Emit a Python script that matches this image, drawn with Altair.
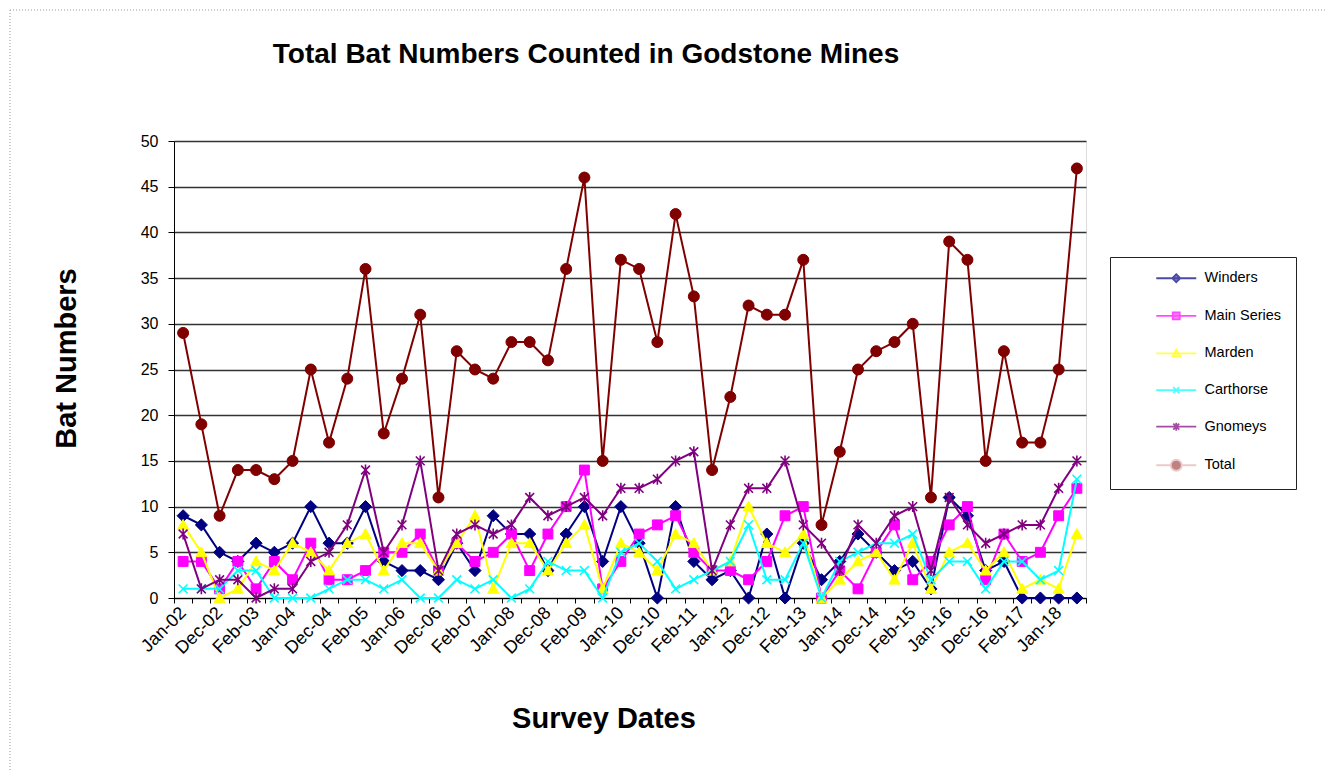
import json
import altair as alt
import pandas as pd

# ---------------- data ----------------
dates = [
    "Jan-02", "Feb-02", "Dec-02", "Jan-03", "Feb-03", "Dec-03",
    "Jan-04", "Feb-04", "Dec-04", "Jan-05", "Feb-05", "Dec-05",
    "Jan-06", "Feb-06", "Dec-06", "Jan-07", "Feb-07", "Dec-07",
    "Jan-08", "Feb-08", "Dec-08", "Jan-09", "Feb-09", "Dec-09",
    "Jan-10", "Feb-10", "Dec-10", "Jan-11", "Feb-11", "Dec-11",
    "Jan-12", "Feb-12", "Dec-12", "Jan-13", "Feb-13", "Dec-13",
    "Jan-14", "Feb-14", "Dec-14", "Jan-15", "Feb-15", "Dec-15",
    "Jan-16", "Feb-16", "Dec-16", "Jan-17", "Feb-17", "Dec-17",
    "Jan-18", "Feb-18",
]
tick_labels = [
    "Jan-02", "Dec-02", "Feb-03", "Jan-04", "Dec-04", "Feb-05", "Jan-06",
    "Dec-06", "Feb-07", "Jan-08", "Dec-08", "Feb-09", "Jan-10", "Dec-10",
    "Feb-11", "Jan-12", "Dec-12", "Feb-13", "Jan-14", "Dec-14", "Feb-15",
    "Jan-16", "Dec-16", "Feb-17", "Jan-18",
]

winders = [9, 8, 5, 4, 6, 5, 6, 10, 6, 6,
           10, 4, 3, 3, 2, 6, 3, 9, 7, 7,
           3, 7, 10, 4, 10, 6, 0, 10, 4, 2,
           3, 0, 7, 0, 6, 2, 4, 7, 5, 3,
           4, 1, 11, 9, 3, 4, 0, 0, 0, 0]
main_series = [4, 4, 1, 4, 1, 4, 2, 6, 2, 2,
               3, 5, 5, 7, 3, 6, 4, 5, 7, 3,
               7, 10, 14, 1, 4, 7, 8, 9, 5, 3,
               3, 2, 4, 9, 10, 0, 3, 1, 5, 8,
               2, 4, 8, 10, 2, 7, 4, 5, 9, 12]
marden = [8, 5, 0, 1, 4, 3, 6, 5, 3, 6,
          7, 3, 6, 6, 3, 6, 9, 1, 6, 6,
          3, 6, 8, 1, 6, 5, 3, 7, 6, 3,
          4, 10, 6, 5, 7, 0, 2, 4, 5, 2,
          6, 1, 5, 6, 3, 5, 1, 2, 1, 7]
carthorse = [1, 1, 1, 3, 3, 0, 0, 0, 1, 2,
             2, 1, 2, 0, 0, 2, 1, 2, 0, 1,
             4, 3, 3, 0, 5, 6, 4, 1, 2, 3,
             4, 8, 2, 2, 6, 0, 4, 5, 6, 6,
             7, 2, 4, 4, 1, 4, 4, 2, 3, 13]
gnomeys = [7, 1, 2, 2, 0, 1, 1, 4, 5, 8,
           14, 5, 8, 15, 3, 7, 8, 7, 8, 11,
           9, 10, 11, 9, 12, 12, 13, 15, 16, 3,
           8, 12, 12, 15, 8, 6, 3, 8, 6, 9,
           10, 3, 11, 8, 6, 7, 8, 8, 12, 15]
total = [29, 19, 9, 14, 14, 13, 15, 25, 17, 24,
         36, 18, 24, 31, 11, 27, 25, 24, 28, 28,
         26, 36, 46, 15, 37, 36, 28, 42, 33, 14,
         22, 32, 31, 31, 37, 8, 16, 25, 27, 28,
         30, 11, 39, 37, 15, 27, 17, 17, 25, 47]

series_names = ["Winders", "Main Series", "Marden", "Carthorse", "Gnomeys", "Total"]
series_values = [winders, main_series, marden, carthorse, gnomeys, total]
colors = ["#000080", "#FF00FF", "#FFFF00", "#00FFFF", "#800080", "#800000"]
legend_line_colors = ["#000080", "#FF00FF", "#FFFF00", "#00FFFF", "#800080", "#E2B6B6"]

# marker shapes (unit paths) for data points
marker_paths = [
    "M0,-1.1L1.1,0L0,1.1L-1.1,0Z",
    "M-0.9,-0.9H0.9V0.9H-0.9Z",
    "M0,-1L1,0.8L-1,0.8Z",
    "M-0.8,-0.8L0.8,0.8M-0.8,0.8L0.8,-0.8",
    "M-0.8,-0.8L0.8,0.8M-0.8,0.8L0.8,-0.8M0,-1V1",
    "M1,0A1,1 0 1,1 -1,0A1,1 0 1,1 1,0Z",
]
marker_strokes = [1, 1, 1, 1.6, 1.6, 1]
# legend symbols: line segment + small marker
legend_paths = [
    "M-4,0L4,0M0,-0.8L0.8,0L0,0.8L-0.8,0Z",
    "M-4,0L4,0M-0.7,-0.7L0.7,-0.7L0.7,0.7L-0.7,0.7Z",
    "M-4,0L4,0M0,-0.8L0.8,0.6L-0.8,0.6Z",
    "M-4,0L4,0M-0.6,-0.6L0.6,0.6M-0.6,0.6L0.6,-0.6",
    "M-4,0L4,0M-0.6,-0.6L0.6,0.6M-0.6,0.6L0.6,-0.6M0,-0.8L0,0.8",
    "M-4,0L-1.1,0M1.1,0L4,0M1.1,0A1.1,1.1 0 1,1 -1.1,0A1.1,1.1 0 1,1 1.1,0Z",
]

rows = []
for name, vals in zip(series_names, series_values):
    for i, (d, v) in enumerate(zip(dates, vals)):
        rows.append({"date": d, "series": name, "value": v, "idx": i})
df = pd.DataFrame(rows)

FONT = "Liberation Sans"
label_expr = "indexof(" + json.dumps(tick_labels) + ", datum.value) >= 0 ? datum.value : ''"

x_enc = alt.X(
    "date:N", sort=dates,
    scale=alt.Scale(type="band", paddingInner=0, paddingOuter=0),
    axis=alt.Axis(
        title="Survey Dates", labelExpr=label_expr, labelAngle=-45,
        labelAlign="right", labelBaseline="middle", labelOverlap=False,
        tickBand="extent", grid=False, ticks=True, tickSize=5,
        tickColor="black", domainColor="black", labelColor="black",
        labelFont=FONT, labelFontSize=18, labelPadding=7,
        titleFont=FONT, titleFontSize=29, titleFontWeight="bold",
        titleColor="black", titleX=429.5, titleY=129,
        titleBaseline="alphabetic", titleAlign="center",
    ),
)
y_enc = alt.Y(
    "value:Q",
    scale=alt.Scale(domain=[0, 50], nice=False),
    axis=alt.Axis(
        values=list(range(0, 51, 5)), title="Bat Numbers", grid=True,
        gridColor="#333333", gridWidth=1.4, tickColor="black", tickSize=6,
        domainColor="black", labelColor="black", labelFont=FONT,
        labelFontSize=16, labelPadding=10,
        titleFont=FONT, titleFontSize=29, titleFontWeight="bold",
        titleColor="black", titleX=-99, titleY=217, titleAngle=-90,
        titleBaseline="alphabetic", titleAlign="center",
    ),
)

base = alt.Chart(df)

series_layers = []
for name, col, path, sw in zip(series_names, colors, marker_paths, marker_strokes):
    sub = base.transform_filter(alt.datum.series == name)
    series_layers.append(
        sub.mark_line(color=col, strokeWidth=2).encode(x=x_enc, y=y_enc, order="idx:Q")
    )
    series_layers.append(
        sub.mark_point(shape=path, size=121, filled=True, fill=col, stroke=col,
                       strokeWidth=sw, opacity=1)
        .encode(x=x_enc, y=y_enc)
    )

leg = alt.Legend(
    orient="none", legendX=936, legendY=116, title=None,
    padding=14, strokeColor="#222222", fillColor="white",
    labelFont=FONT, labelFontSize=14.5, labelColor="black",
    symbolSize=100, symbolStrokeWidth=1.8, symbolOffset=45,
    labelOffset=21, rowPadding=21.6,
)
# legend-only layer: one point per series pushed outside the (clipped) plot area
legend_layer = (
    base.transform_filter("datum.idx == 0")
    .transform_calculate(value="-1000")
    .mark_point(filled=True, size=100, strokeWidth=1.8, clip=True)
    .encode(
        x=x_enc, y=y_enc,
        fill=alt.Fill("series:N", scale=alt.Scale(domain=series_names, range=colors), legend=leg),
        stroke=alt.Stroke("series:N", scale=alt.Scale(domain=series_names, range=legend_line_colors), legend=leg),
        shape=alt.Shape("series:N", scale=alt.Scale(domain=series_names, range=legend_paths), legend=leg),
    )
)

# dotted chart-area border (left and top edges)
frame_df = pd.DataFrame({"k": [0]})
border_left = alt.Chart(frame_df).mark_rule(color="#9a9a9a", strokeDash=[1, 2], strokeWidth=1).encode(
    x=alt.value(-164), y=alt.value(-131), y2=alt.value(631)
)
border_top = alt.Chart(frame_df).mark_rule(color="#9a9a9a", strokeDash=[1, 2], strokeWidth=1).encode(
    x=alt.value(-164), x2=alt.value(1151), y=alt.value(-131)
)

chart = alt.layer(border_left, border_top, *series_layers, legend_layer).properties(
    width=912, height=457,
    autosize=alt.AutoSizeParams(type="none"),
    padding={"left": 174, "top": 141, "right": 239, "bottom": 174},
    title=alt.TitleParams(
        text="Total Bat Numbers Counted in Godstone Mines",
        font=FONT, fontSize=28, fontWeight="bold", color="black",
        anchor="middle", frame="group", dx=-44, offset=-81,
        baseline="alphabetic",
    ),
).configure_view(stroke=None).configure(background="white")

chart.save("out.html", embed_options={"renderer": "svg", "actions": False})
